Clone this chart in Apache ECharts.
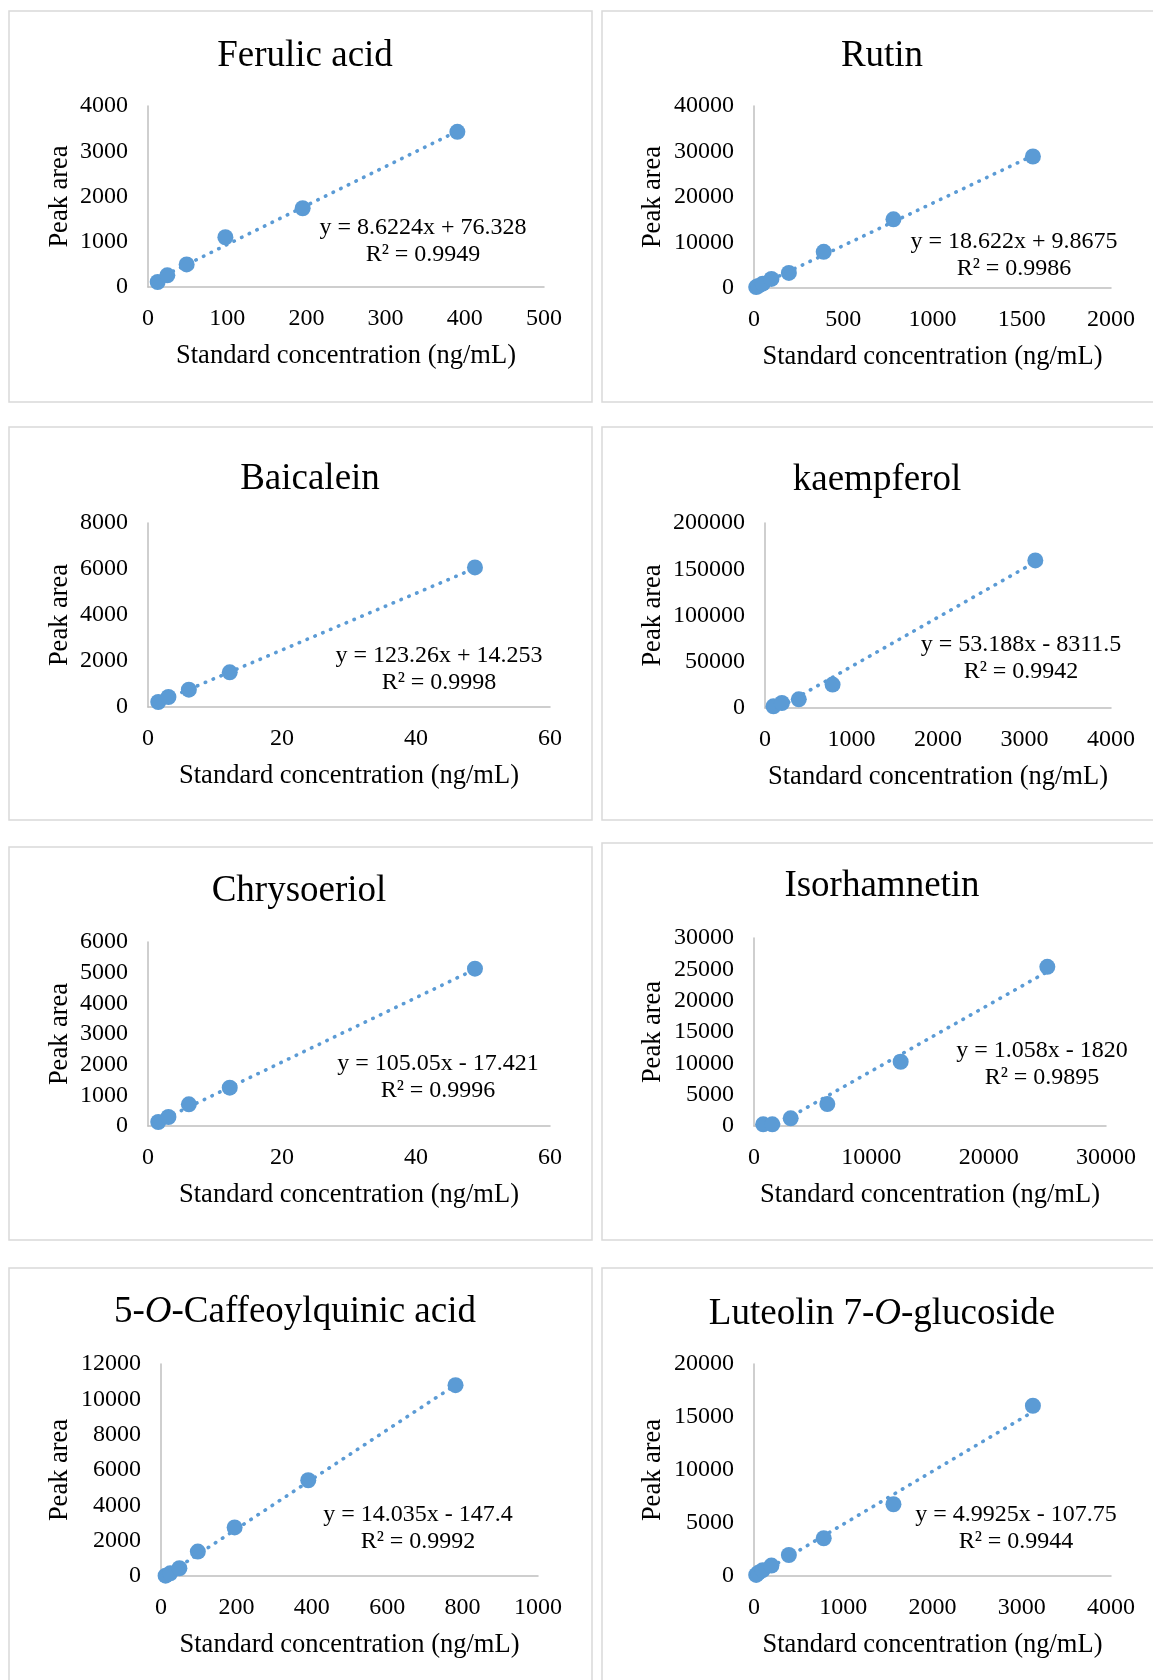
<!DOCTYPE html>
<html>
<head>
<meta charset="utf-8">
<title>Calibration curves</title>
<script src="https://cdn.jsdelivr.net/npm/echarts@6/dist/echarts.min.js"></script>
<style>
    html, body { margin: 0; padding: 0; background: #fff; }
    #chart { width: 1153px; height: 1680px; }
</style>
</head>
<body>
<div id="chart"></div>
<script>
    // ---- data ----
    var names = ['Ferulic acid', 'Rutin', 'Baicalein', 'kaempferol', 'Chrysoeriol',
        'Isorhamnetin', '5-{i|O}-Caffeoylquinic acid', 'Luteolin 7-{i|O}-glucoside'];

    var ferulicX = [12.2, 24.4, 48.8, 97.7, 195.3, 390.6];
    var ferulicY = [110, 257, 500, 1100, 1740, 3430];

    var rutinX = [12.2, 24.4, 48.8, 97.7, 195.3, 390.6, 781.25, 1562.5];
    var rutinY = [200, 450, 950, 1990, 3320, 7950, 15100, 28900];

    var baicaleinX = [1.53, 3.05, 6.1, 12.2, 48.8];
    var baicaleinY = [217, 435, 754, 1507, 6070];

    var kaempferolX = [97.7, 195.3, 390.6, 781.25, 3125];
    var kaempferolY = [1800, 5400, 9400, 25300, 159500];

    var chrysoeriolX = [1.53, 3.05, 6.1, 12.2, 48.8];
    var chrysoeriolY = [130, 293, 707, 1250, 5130];

    var isorhamnetinX = [781.25, 1562.5, 3125, 6250, 12500, 25000];
    var isorhamnetinY = [260, 270, 1220, 3500, 10250, 25400];

    var caffeoylX = [12.2, 24.4, 48.8, 97.7, 195.3, 390.6, 781.25];
    var caffeoylY = [20, 150, 440, 1380, 2750, 5420, 10800];

    var luteolinX = [24.4, 48.8, 97.7, 195.3, 390.6, 781.25, 1562.5, 3125];
    var luteolinY = [100, 300, 550, 980, 1980, 3560, 6770, 16060];

    var xs = [ferulicX, rutinX, baicaleinX, kaempferolX, chrysoeriolX, isorhamnetinX, caffeoylX, luteolinX];
    var ys = [ferulicY, rutinY, baicaleinY, kaempferolY, chrysoeriolY, isorhamnetinY, caffeoylY, luteolinY];

    // linear trendlines (from the printed equations)
    var slopes = [8.6224, 18.622, 123.26, 53.188, 105.05, 1.058, 14.035, 4.9925];
    var intercepts = [76.328, 9.8675, 14.253, -8311.5, -17.421, -1820, -147.4, -107.75];
    var eqLabels = ['y = 8.6224x + 76.328', 'y = 18.622x + 9.8675', 'y = 123.26x + 14.253', 'y = 53.188x - 8311.5',
        'y = 105.05x - 17.421', 'y = 1.058x - 1820', 'y = 14.035x - 147.4', 'y = 4.9925x - 107.75'];
    var r2Labels = ['0.9949', '0.9986', '0.9998', '0.9942', '0.9996', '0.9895', '0.9992', '0.9944'];

    // axis ranges
    var xMax = [500, 2000, 60, 4000, 60, 30000, 1000, 4000];
    var xStep = [100, 500, 20, 1000, 20, 10000, 200, 1000];
    var yMax = [4000, 40000, 8000, 200000, 6000, 30000, 12000, 20000];
    var yStep = [1000, 10000, 2000, 50000, 1000, 5000, 2000, 5000];

    // ---- layout (pixels) ----
    var grids = [
        {left: 148, top: 106, width: 396, height: 181},
        {left: 754, top: 106, width: 357, height: 182},
        {left: 148, top: 523, width: 402, height: 184},
        {left: 765, top: 523, width: 346, height: 185},
        {left: 148, top: 942, width: 402, height: 184},
        {left: 754, top: 938, width: 352, height: 188},
        {left: 161, top: 1364, width: 377, height: 212},
        {left: 754, top: 1364, width: 357, height: 212}
    ];
    var titlePos = [[305, 56], [882, 56], [310, 479], [877, 480], [299, 891], [882, 886], [295, 1312], [882, 1314]];
    var eqPos = [[423, 241], [1014, 255], [439, 669], [1021, 658], [438, 1077], [1042, 1064], [418, 1528], [1016, 1528]];
    var yNameGap = [74, 87, 74, 98, 74, 87, 87, 87];
    var boxes = [
        [9, 11, 583, 391], [602, 11, 570, 391],
        [9, 427, 583, 393], [602, 427, 570, 393],
        [9, 847, 583, 393], [602, 843, 570, 397],
        [9, 1268, 583, 430], [602, 1268, 570, 430]
    ];

    var SERIF = "'Liberation Serif', 'Times New Roman', serif";
    var BLUE = '#5B9BD5';
    var AXIS = '#BFBFBF';

    var myChart = echarts.init(document.getElementById('chart'));

    var xAxes = [], yAxes = [], series = [], graphics = [];

    function plain(v) {
        return String(v);
    }

    for (var i = 0; i < 8; i++) {
        xAxes.push({
            type: 'value', gridIndex: i, min: 0, max: xMax[i], interval: xStep[i],
            name: 'Standard concentration (ng/mL)', nameLocation: 'middle', nameGap: 56,
            nameTextStyle: {fontFamily: SERIF, fontSize: 26.5, color: '#000'},
            axisLine: {show: true, lineStyle: {color: AXIS, width: 1.5}},
            axisTick: {show: false},
            splitLine: {show: false},
            axisLabel: {fontFamily: SERIF, fontSize: 24, color: '#000', margin: 20, formatter: plain}
        });
        yAxes.push({
            type: 'value', gridIndex: i, min: 0, max: yMax[i], interval: yStep[i],
            name: 'Peak area', nameLocation: 'middle', nameRotate: 90, nameGap: yNameGap[i],
            nameTextStyle: {fontFamily: SERIF, fontSize: 26.5, color: '#000'},
            axisLine: {show: true, lineStyle: {color: AXIS, width: 1.5}},
            axisTick: {show: false},
            splitLine: {show: false},
            axisLabel: {fontFamily: SERIF, fontSize: 24, color: '#000', margin: 20,
                padding: [4, 0, 0, 0], formatter: plain}
        });

        var pts = xs[i].map(function (x, k) { return [x, ys[i][k]]; });
        var lo = Math.min.apply(null, xs[i]);
        var hi = Math.max.apply(null, xs[i]);

        series.push({
            type: 'line', xAxisIndex: i, yAxisIndex: i, z: 2,
            data: [[lo, slopes[i] * lo + intercepts[i]], [hi, slopes[i] * hi + intercepts[i]]],
            symbol: 'none', clip: true, silent: true,
            lineStyle: {color: BLUE, width: 3.6, type: [0.5, 8], cap: 'round'}
        });
        series.push({
            type: 'scatter', xAxisIndex: i, yAxisIndex: i, z: 3,
            data: pts, symbol: 'circle', symbolSize: 16,
            itemStyle: {color: BLUE, opacity: 1}
        });

        graphics.push({
            type: 'rect', z: -10,
            shape: {x: boxes[i][0], y: boxes[i][1], width: boxes[i][2], height: boxes[i][3]},
            style: {fill: 'none', stroke: '#D9D9D9', lineWidth: 1.5}
        });
        graphics.push({
            type: 'text', x: titlePos[i][0], y: titlePos[i][1],
            style: {
                text: names[i], fontFamily: SERIF, fontSize: 37, fill: '#000',
                align: 'center', verticalAlign: 'middle',
                rich: {i: {fontFamily: SERIF, fontSize: 37, fontStyle: 'italic', fill: '#000'}}
            }
        });
        graphics.push({
            type: 'text', x: eqPos[i][0], y: eqPos[i][1],
            style: {
                text: eqLabels[i] + '\nR\u00b2 = ' + r2Labels[i],
                fontFamily: SERIF, fontSize: 24, fill: '#000', lineHeight: 27,
                align: 'center', verticalAlign: 'middle'
            }
        });
    }

    var option = {
        backgroundColor: '#fff',
        animation: false,
        grid: grids,
        xAxis: xAxes,
        yAxis: yAxes,
        series: series,
        graphic: graphics
    };

    myChart.setOption(option);
</script>
</body>
</html>
